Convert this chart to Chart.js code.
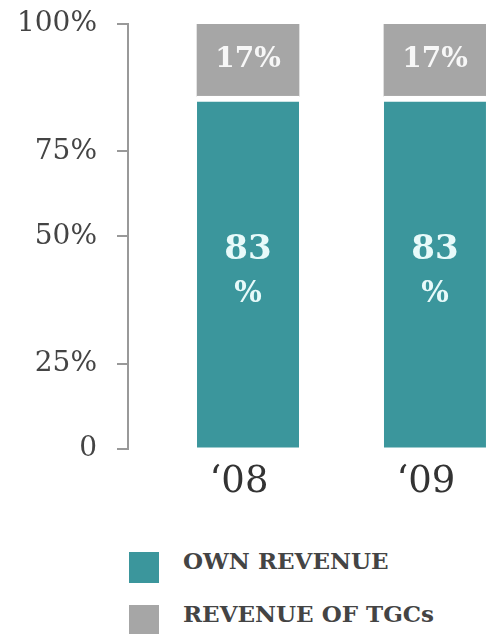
<!DOCTYPE html>
<html>
<head>
<meta charset="utf-8">
<script src="https://cdn.jsdelivr.net/npm/chart.js@4"></script>
<style>
  body { margin: 0; background: #fff; width: 486px; height: 634px; overflow: hidden; }
  #wrap { position: relative; width: 486px; height: 531px; }
  #legend { list-style: none; margin: 21px 0 0 0; padding: 0 0 0 129px; }
  #legend li { display: flex; align-items: flex-start; height: 31px; margin-bottom: 22px; }
  #legend .box { width: 30px; height: 31px; margin-right: 24px; }
  #legend .txt { font: bold 23px "DejaVu Serif", serif; color: #444; line-height: 23px; margin-top: -3px; }
</style>
</head>
<body>
<div id="wrap"><canvas id="revenueChart"></canvas></div>
<ul id="legend"></ul>
<script>
// ! revenue structure, '08 vs '09

const years = ["\u201808", "\u201809"];
const ownRevenue = [83, 83];
const tgcRevenue = [17, 17];
const seriesNames = ["OWN REVENUE", "REVENUE OF TGCs"];

// y axis marks as printed on the slide
const tickValues = [0, 20, 50, 70, 100];
const tickLabels = ["0", "25%", "50%", "75%", "100%"];

const teal = "#3b969c";
const grey = "#a6a6a6";

const points = (arr) => arr.map((v, i) => ({ x: i, y: v }));

// writes the value inside each bar segment
const barLabels = {
  id: "barLabels",
  afterDatasetsDraw(chart) {
    const ctx = chart.ctx;
    ctx.save();
    ctx.textAlign = "center";
    ctx.textBaseline = "middle";
    chart.data.datasets.forEach((ds, di) => {
      const meta = chart.getDatasetMeta(di);
      meta.data.forEach((bar, i) => {
        const v = ds.data[i].y;
        const mid = (bar.y + bar.base) / 2;
        ctx.fillStyle = ds.labelColor;
        if (ds.splitLabel) {
          ctx.font = "bold 34px 'DejaVu Serif'";
          ctx.fillText(String(v), bar.x, mid - 22);
          ctx.font = "bold 29px 'DejaVu Serif'";
          ctx.fillText("%", bar.x, mid + 23);
        } else {
          ctx.font = "bold 28px 'DejaVu Serif'";
          ctx.fillText(v + "%", bar.x, mid);
        }
      });
    });
    ctx.restore();
  },
};

const ctx = document.getElementById("revenueChart");

const chart = new Chart(ctx, {
  type: "bar",
  data: {
    datasets: [
      {
        label: seriesNames[0],
        data: points(ownRevenue),
        backgroundColor: teal,
        borderColor: "#ffffff",
        borderWidth: { top: 6, left: 0, right: 0, bottom: 0 },
        borderSkipped: false,
        barThickness: 102,
        labelColor: "#e8fafa",
        splitLabel: true,
      },
      {
        label: seriesNames[1],
        data: points(tgcRevenue),
        backgroundColor: grey,
        barThickness: 102,
        labelColor: "#f7f7f7",
      },
    ],
  },
  options: {
    responsive: true,
    maintainAspectRatio: false,
    animation: false,
    layout: { padding: { top: 24, right: 0, bottom: 14, left: 0 } },
    plugins: {
      legend: { display: false },
      tooltip: { enabled: false },
    },
    scales: {
      x: {
        type: "linear",
        stacked: true,
        offset: false,
        min: -0.642,
        max: 1.273,
        afterBuildTicks: (s) => {
          s.ticks = years.map((_, i) => ({ value: i }));
        },
        ticks: {
          callback: (v) => years[v],
          padding: 12,
          labelOffset: -9,
          color: "#333",
          font: { family: "DejaVu Serif", size: 37 },
        },
        grid: { display: false, drawTicks: false },
        border: { display: false },
      },
      y: {
        stacked: true,
        min: 0,
        max: 100,
        afterBuildTicks: (s) => {
          s.ticks = tickValues.map((v) => ({ value: v }));
        },
        afterFit: (s) => {
          s.width = 128;
          s.paddingTop = 0;
          s.paddingBottom = 0;
        },
        ticks: {
          callback: (v) => tickLabels[tickValues.indexOf(v)],
          padding: 20,
          color: "#444",
          font: { family: "DejaVu Serif", size: 28 },
        },
        grid: {
          drawOnChartArea: false,
          tickLength: 11,
          color: "#999",
          lineWidth: 2,
        },
        border: { color: "#999", width: 2 },
      },
    },
  },
  plugins: [barLabels],
});

// legend list under the chart, built from the datasets
const legend = document.getElementById("legend");
chart.data.datasets.forEach((ds) => {
  const li = document.createElement("li");
  const box = document.createElement("span");
  box.className = "box";
  box.style.background = ds.backgroundColor;
  const txt = document.createElement("span");
  txt.className = "txt";
  txt.textContent = ds.label;
  li.appendChild(box);
  li.appendChild(txt);
  legend.appendChild(li);
});
</script>
</body>
</html>
